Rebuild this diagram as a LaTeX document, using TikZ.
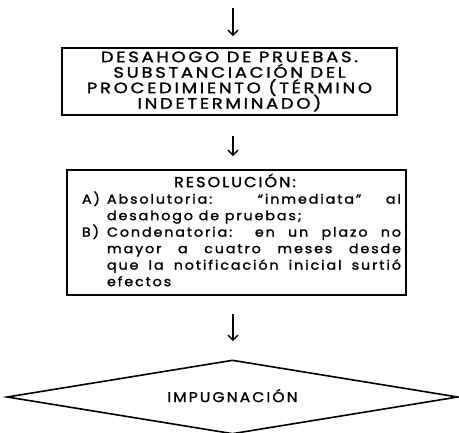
\documentclass[tikz,border=0pt]{standalone}
\usepackage{fontspec}
\setmainfont{Poppins}[FakeStretch=1.1, LetterSpace=14.5, FakeBold=1.5]
\newfontfamily\headfont{Poppins}[FakeStretch=1.2, LetterSpace=18, FakeBold=1.5]
\usetikzlibrary{arrows.meta,shapes.geometric,calc}
\newcommand{\mytight}{\lineskiplimit=-50pt\relax\lineskip=0pt\relax}
\begin{document}
\begin{tikzpicture}[x=1pt,y=-1pt,
  box/.style={draw, line width=1.6pt, inner sep=0pt},
  arr/.style={-{Straight Barb[length=5pt,width=10pt]}, line width=1.5pt},
  ]
\useasboundingbox (0,0) rectangle (459,433);
\coordinate (a0) at (233,8);
\node[box, minimum width=335pt, minimum height=67pt, align=center,
      font=\headfont\fontsize{15}{15.5}\selectfont\mytight] (b1) at (229.5,81.5)
  {DESAHOGO DE PRUEBAS.\\ SUBSTANCIACIÓN DEL\\ PROCEDIMIENTO (TÉRMINO\\ INDETERMINADO)};
\node[box, minimum width=339pt, minimum height=125pt] (b2) at (236.5,232.5) {};
\node[inner sep=0pt, text width=319pt, align=justify,
      font=\fontsize{13}{16.5}\selectfont\mytight] (t2) at (241.5,230)
  {{\centering\fontsize{14.5}{16.5}\selectfont RESOLUCIÓN:\hspace*{13pt}\par}
   \hangindent=25pt\hangafter=1\noindent\makebox[25pt][l]{A)}Absolutoria: ``inmediata'' al\linebreak desahogo de pruebas;\par
   \hangindent=25pt\hangafter=1\noindent\makebox[25pt][l]{B)}Condenatoria: en un plazo no\linebreak mayor a cuatro meses desde\linebreak que la notificación inicial surtió\linebreak efectos\par};
\node[draw, diamond, line width=1.6pt, minimum width=451pt, minimum height=74pt,
      inner sep=0pt, font=\fontsize{14.2}{15}\selectfont] (d) at (232.5,397)
  {\smash{\raisebox{-0.36em}{\makebox[0pt]{IMPUGNACIÓN}}}};
\draw[arr, shorten >=11pt] (a0) -- (a0 |- b1.north);
\draw[arr, shorten <=20pt, shorten >=13pt] (a0 |- b1.south) -- (a0 |- b2.north);
\draw[arr, shorten <=18pt, shorten >=18pt] (a0 |- b2.south) -- (a0 |- d.north);
\end{tikzpicture}
\end{document}
